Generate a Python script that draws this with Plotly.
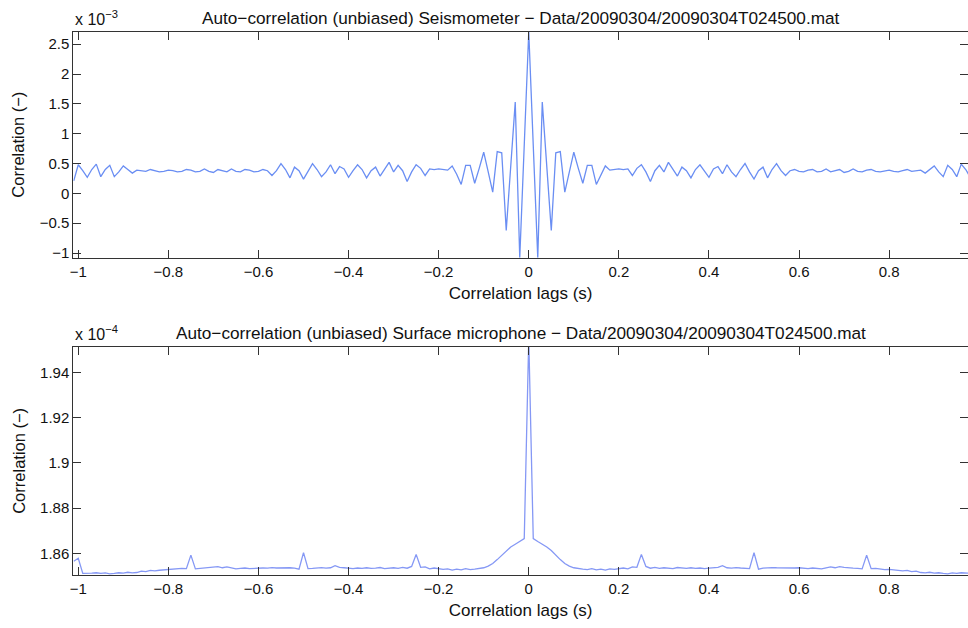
import plotly.graph_objects as go

# Sample interval of the correlation lags (s) and lag indices
dt = 0.01
lag_index = list(range(-101, 102))
lags = [k * dt for k in lag_index]

# Seismometer autocorrelation (x 1e-3), lags 0 .. 1.01 s (autocorrelation is symmetric)
seis_pos = [
    2.71, 0.80, -1.08, 1.53, 0.45, -0.62, 0.68, 0.70, 0.02, 0.36,
    0.69, 0.42, 0.17, 0.47, 0.47, 0.15, 0.32, 0.46, 0.39, 0.40,
    0.41, 0.40, 0.41, 0.30, 0.42, 0.48, 0.36, 0.20, 0.38, 0.47,
    0.36, 0.52, 0.40, 0.29, 0.44, 0.38, 0.26, 0.40, 0.48, 0.38,
    0.27, 0.41, 0.45, 0.33, 0.48, 0.36, 0.28, 0.40, 0.50, 0.36,
    0.24, 0.38, 0.44, 0.26, 0.40, 0.50, 0.38, 0.30, 0.38, 0.40,
    0.37, 0.36, 0.39, 0.40, 0.36, 0.37, 0.41, 0.36, 0.38, 0.40,
    0.35, 0.37, 0.41, 0.37, 0.36, 0.39, 0.40, 0.37, 0.36, 0.38,
    0.39, 0.37, 0.36, 0.38, 0.40, 0.37, 0.38, 0.39, 0.34, 0.40,
    0.46, 0.36, 0.28, 0.47, 0.40, 0.28, 0.49, 0.40, 0.27, 0.38,
    0.48, 0.21,
]

# Surface microphone autocorrelation (x 1e-4), lags 0 .. 1.01 s
mic_pos = [
    1.9550, 1.8665, 1.8652, 1.8640, 1.8628, 1.8612, 1.8590, 1.8572, 1.8555, 1.8543,
    1.8536, 1.8532, 1.8530, 1.8528, 1.8532, 1.8527, 1.8530, 1.8526, 1.8531, 1.8529,
    1.8532, 1.8535, 1.8531, 1.8540, 1.8538, 1.8595, 1.8542, 1.8534, 1.8538, 1.8533,
    1.8536, 1.8534, 1.8532, 1.8537, 1.8534, 1.8533, 1.8536, 1.8533, 1.8535, 1.8532,
    1.8534, 1.8536, 1.8538, 1.8545, 1.8536, 1.8534, 1.8537, 1.8535, 1.8533, 1.8532,
    1.8603, 1.8530, 1.8534, 1.8536, 1.8537, 1.8536, 1.8535, 1.8537, 1.8534, 1.8535,
    1.8536, 1.8534, 1.8532, 1.8535, 1.8533, 1.8531, 1.8536, 1.8540, 1.8536, 1.8541,
    1.8538, 1.8535, 1.8534, 1.8533, 1.8531, 1.8592, 1.8532, 1.8533, 1.8530, 1.8528,
    1.8529, 1.8527, 1.8525, 1.8522, 1.8524, 1.8519, 1.8521, 1.8515, 1.8513, 1.8516,
    1.8512, 1.8514, 1.8511, 1.8509, 1.8513, 1.8511, 1.8514, 1.8512, 1.8510, 1.8511,
    1.8578, 1.8565,
]

seis = seis_pos[:0:-1] + seis_pos
mic = mic_pos[:0:-1] + mic_pos

x_ticks = [-1, -0.8, -0.6, -0.4, -0.2, 0, 0.2, 0.4, 0.6, 0.8]
x_ticktext = ["\u22121", "\u22120.8", "\u22120.6", "\u22120.4", "\u22120.2", "0", "0.2", "0.4", "0.6", "0.8"]
seis_ticks = [-1, -0.5, 0, 0.5, 1, 1.5, 2, 2.5]
seis_ticktext = ["\u22121", "\u22120.5", "0", "0.5", "1", "1.5", "2", "2.5"]
mic_ticks = [1.86, 1.88, 1.90, 1.92, 1.94]
mic_ticktext = ["1.86", "1.88", "1.9", "1.92", "1.94"]

title_top = "Auto\u2212correlation (unbiased) Seismometer \u2212 Data/20090304/20090304T024500.mat"
title_bot = "Auto\u2212correlation (unbiased) Surface microphone \u2212 Data/20090304/20090304T024500.mat"

W, H = 968, 628
FONT = "Liberation Sans, Arial, Helvetica, sans-serif"
AX = "#333333"
TXT = "#111111"

fig = go.Figure()
fig.add_trace(go.Scatter(x=lags, y=seis, mode="lines", xaxis="x", yaxis="y",
                         line=dict(color="#6a8ef3", width=1.3), showlegend=False))
fig.add_trace(go.Scatter(x=lags, y=mic, mode="lines", xaxis="x2", yaxis="y2",
                         line=dict(color="#8598f5", width=1.3), showlegend=False))

xdom = [73.3 / W, 1.0]
top_dom = [1 - 257.7 / H, 1 - 31.7 / H]
bot_dom = [1 - 575 / H, 1 - 346.7 / H]

xcommon = dict(range=[-1.011, 0.975], tickvals=x_ticks, ticktext=x_ticktext,
               ticks="inside", ticklen=8, tickcolor=AX, showline=True, linecolor=AX,
               linewidth=1, mirror="ticks", showgrid=False, zeroline=False,
               domain=xdom, automargin=False,
               tickfont=dict(family=FONT, size=15, color=TXT),
               title=dict(text="Correlation lags (s)", standoff=8,
                          font=dict(family=FONT, size=17, color=TXT)))
ycommon = dict(ticks="inside", ticklen=8, tickcolor=AX, showline=True, linecolor=AX,
               linewidth=1, mirror="ticks", showgrid=False, zeroline=False,
               automargin=False,
               tickfont=dict(family=FONT, size=15, color=TXT),
               title=dict(text="Correlation (\u2212)", standoff=10,
                          font=dict(family=FONT, size=16.5, color=TXT)))

fig.update_layout(
    width=W, height=H,
    margin=dict(l=0, r=0, t=0, b=0),
    paper_bgcolor="white", plot_bgcolor="white",
    font=dict(family=FONT, size=15, color=TXT),
    xaxis=dict(xcommon, anchor="y"),
    yaxis=dict(ycommon, domain=top_dom, anchor="x", range=[-1.078, 2.71],
               tickvals=seis_ticks, ticktext=seis_ticktext),
    xaxis2=dict(xcommon, anchor="y2"),
    yaxis2=dict(ycommon, domain=bot_dom, anchor="x2", range=[1.8504, 1.9513],
                tickvals=mic_ticks, ticktext=mic_ticktext),
    annotations=[
        dict(text=title_top, x=(xdom[0] + xdom[1]) / 2, y=top_dom[1], xref="paper", yref="paper",
             xanchor="center", yanchor="bottom", yshift=2, showarrow=False,
             font=dict(family=FONT, size=17.2, color=TXT)),
        dict(text=title_bot, x=(xdom[0] + xdom[1]) / 2, y=bot_dom[1], xref="paper", yref="paper",
             xanchor="center", yanchor="bottom", yshift=2, showarrow=False,
             font=dict(family=FONT, size=17.2, color=TXT)),
        dict(text="x 10<sup>\u22123</sup>", x=xdom[0], y=top_dom[1], xref="paper", yref="paper",
             xanchor="left", yanchor="bottom", yshift=2, showarrow=False,
             font=dict(family=FONT, size=16, color=TXT)),
        dict(text="x 10<sup>\u22124</sup>", x=xdom[0], y=bot_dom[1], xref="paper", yref="paper",
             xanchor="left", yanchor="bottom", yshift=2, showarrow=False,
             font=dict(family=FONT, size=16, color=TXT)),
    ],
)

fig.write_html("out.html")
